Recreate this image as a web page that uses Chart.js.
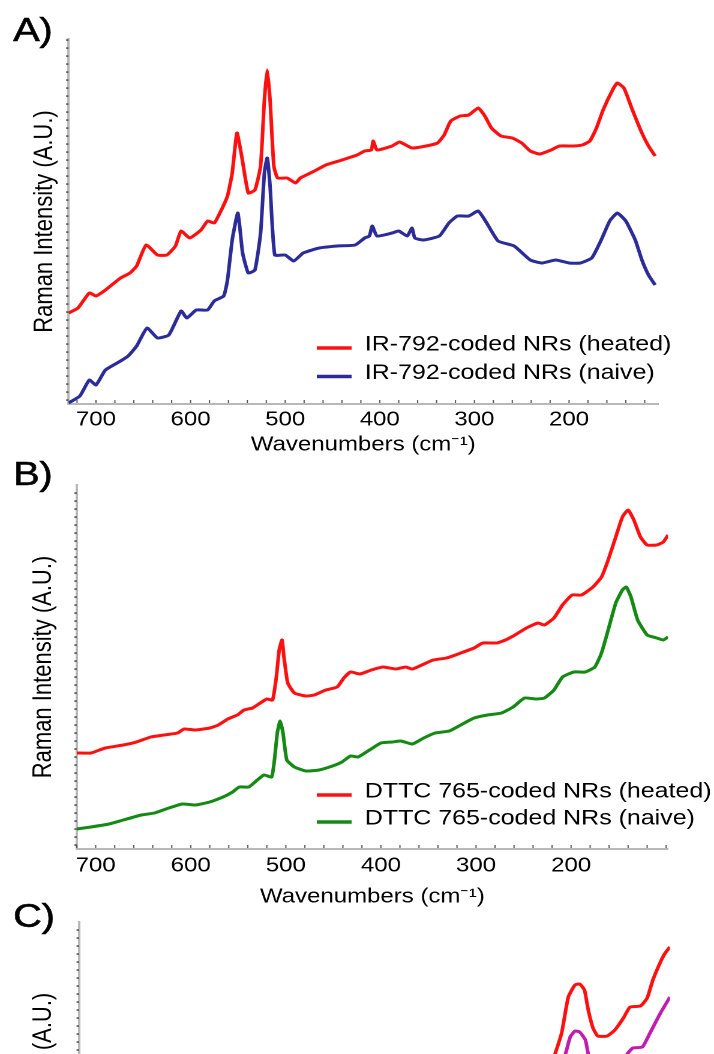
<!DOCTYPE html>
<html lang="en">
<head>
<meta charset="UTF-8">
<title>Raman spectra of coded NRs</title>
<script src="https://cdn.jsdelivr.net/npm/chart.js"></script>
<style>
    html, body {
        margin: 0;
        padding: 0;
        width: 714px;
        height: 1054px;
        overflow: hidden;
        background: #fff;
    }

    /* the original figure is stretched sideways, so the whole sheet is too */
    .sheet {
        position: absolute;
        left: 0;
        top: 0;
        width: 595px;
        height: 1054px;
        transform: scaleX(1.2);
        transform-origin: 0 0;
    }

    .sheet canvas {
        position: absolute;
        left: 0;
    }

    .tag {
        position: absolute;
        left: 11px;
        font-family: "Liberation Sans", Arial, sans-serif;
        font-size: 33px;
        line-height: 1;
        color: #000;
        -webkit-text-stroke: 0.6px #000;
    }
</style>
</head>
<body>
<div class="sheet">
    <canvas id="chartA" width="595" height="465" style="top:0px"></canvas>
    <canvas id="chartB" width="595" height="475" style="top:440px"></canvas>
    <canvas id="chartC" width="595" height="475" style="top:883px"></canvas>
    <div class="tag" style="top:13px">A)</div>
    <div class="tag" style="top:457px">B)</div>
    <div class="tag" style="top:899px">C)</div>
</div>

<script>
    // Panel A - IR-792 coded NRs
    const irHeatedWn  = [729, 719, 707, 700, 690, 674, 664, 657, 647, 635, 625, 616, 610, 601, 589, 582, 575, 568, 561, 556, 551, 546, 539, 532, 526, 522, 519, 516, 512, 508, 498, 489, 484, 469, 457, 440, 424, 416, 409, 407, 403, 387, 379, 366, 351, 339, 332, 325, 315, 306, 296, 289, 282, 272, 260, 250, 241, 231, 219, 210, 195, 186, 178, 171, 164, 154, 149, 142, 133, 123, 116, 109];
    const irHeatedInt = [91, 96, 111, 108, 114, 126, 131, 138, 159, 149, 149, 158, 173, 166, 174, 183, 181, 193, 208, 231, 271, 248, 211, 214, 238, 304, 334, 304, 238, 226, 226, 221, 226, 233, 239, 244, 249, 253, 254, 263, 254, 258, 262, 256, 258, 261, 269, 283, 288, 289, 296, 288, 276, 268, 266, 261, 253, 250, 254, 258, 258, 259, 263, 276, 294, 314, 321, 316, 294, 271, 258, 248];
    const irNaiveWn   = [729, 717, 707, 700, 690, 674, 666, 657, 646, 635, 623, 610, 604, 594, 582, 575, 565, 561, 556, 550, 545, 539, 532, 526, 522, 519, 516, 511, 500, 491, 481, 464, 445, 426, 416, 411, 408, 403, 387, 380, 371, 366, 363, 354, 337, 327, 318, 306, 296, 287, 275, 258, 241, 229, 214, 200, 188, 176, 166, 157, 149, 140, 130, 123, 116, 109];
    const irNaiveInt  = [1, 8, 24, 19, 34, 43, 48, 58, 76, 66, 69, 93, 86, 94, 94, 103, 108, 124, 164, 191, 151, 131, 134, 171, 231, 246, 218, 149, 149, 143, 151, 156, 158, 159, 166, 168, 178, 168, 171, 173, 168, 176, 166, 164, 168, 181, 188, 188, 193, 181, 163, 158, 144, 141, 144, 141, 141, 146, 164, 183, 191, 183, 164, 144, 129, 119];

    // Panel B - DTTC 765 coded NRs
    const dttcHeatedWn  = [720, 705, 690, 671, 657, 642, 628, 614, 607, 595, 580, 571, 561, 551, 544, 535, 527, 520, 514, 510, 507, 504, 502, 498, 491, 479, 470, 458, 446, 439, 432, 422, 410, 398, 384, 374, 367, 357, 345, 331, 316, 302, 293, 278, 269, 259, 247, 235, 228, 218, 209, 199, 189, 177, 168, 161, 153, 146, 140, 134, 127, 120, 110, 103, 98];
    const dttcHeatedInt = [96, 96, 101, 104, 107, 112, 114, 116, 120, 119, 121, 124, 130, 134, 139, 141, 146, 150, 149, 172, 199, 209, 192, 166, 156, 153, 154, 159, 162, 171, 177, 175, 179, 182, 180, 182, 180, 184, 189, 191, 196, 201, 206, 206, 209, 214, 221, 226, 224, 231, 244, 254, 254, 262, 272, 289, 312, 332, 339, 329, 312, 304, 304, 307, 314];
    const dttcNaiveWn   = [720, 705, 686, 671, 652, 638, 623, 609, 595, 580, 566, 556, 549, 539, 530, 523, 515, 512, 509, 506, 503, 499, 491, 479, 465, 451, 441, 432, 424, 412, 400, 388, 379, 367, 355, 343, 328, 316, 302, 288, 273, 261, 249, 237, 228, 218, 209, 197, 185, 175, 168, 161, 153, 146, 142, 137, 130, 120, 110, 103, 98];
    const dttcNaiveInt  = [20, 22, 25, 29, 34, 36, 41, 45, 44, 47, 52, 57, 62, 62, 69, 74, 72, 89, 116, 128, 116, 89, 82, 78, 79, 83, 87, 93, 92, 99, 106, 107, 108, 105, 111, 116, 118, 124, 131, 134, 136, 142, 151, 150, 151, 159, 172, 177, 177, 182, 196, 219, 246, 259, 262, 252, 229, 214, 211, 209, 212];

    // Panel C - only the top right corner is inside the picture
    const cHeatedWn  = [224, 219, 212, 205, 198, 193, 188, 184, 179, 174, 164, 156, 147, 140, 129, 122, 116, 108, 103, 98];
    const cHeatedInt = [222, 232, 253, 289, 301, 302, 296, 276, 258, 250, 250, 256, 268, 279, 280, 288, 306, 324, 333, 339];
    const cNaiveWn   = [214, 208, 203, 198, 193, 187, 184, 178, 172, 163, 156, 148, 143, 137, 127, 119, 108, 98];
    const cNaiveInt  = [218, 232, 249, 255, 254, 246, 232, 218, 212, 208, 210, 220, 232, 238, 239, 253, 273, 289];

    const xTickLabels = [700, 600, 500, 400, 300, 200];

    const RED = '#ff1010';
    const BLUE = '#2c2c98';
    const GREEN = '#148a14';
    const MAGENTA = '#c01cb0';
    const FONT = '"Liberation Sans", Arial, sans-serif';

    Chart.defaults.font.family = FONT;
    Chart.defaults.color = '#000';

    function pts(wn, vals) {
        return wn.map((w, i) => ({ x: w, y: vals[i] }));
    }

    function line(label, wn, vals, color) {
        return {
            label: label,
            data: pts(wn, vals),
            borderColor: color,
            backgroundColor: color,
            borderWidth: 3,
            pointRadius: 0,
            tension: 0.15,
            fill: false
        };
    }

    // small tick marks along both axes and the legend inside the plot
    const panelDecor = {
        id: 'panelDecor',
        beforeDatasetsDraw(chart, args, opts) {
            const ctx = chart.ctx;
            const xs = chart.scales.x;
            const ys = chart.scales.y;
            const area = chart.chartArea;
            ctx.save();
            ctx.fillStyle = '#555';
            for (let v = Math.ceil(xs.min / 20) * 20; v <= xs.max; v += 20) {
                const px = xs.getPixelForValue(v);
                ctx.fillRect(px - 0.5, area.bottom - 4, 1, 3);
            }
            ctx.fillStyle = '#333';
            for (let v = 4; v < ys.max; v += 8) {
                const py = ys.getPixelForValue(v);
                ctx.fillRect(area.left - 2, py - 0.6, 2, 1.3);
            }
            ctx.restore();
        },
        afterDraw(chart, args, opts) {
            if (!opts.show) return;
            const ctx = chart.ctx;
            ctx.save();
            ctx.font = '20.8px ' + FONT;
            ctx.textBaseline = 'middle';
            chart.data.datasets.forEach((ds, i) => {
                const y = opts.y + i * opts.gap;
                ctx.strokeStyle = ds.borderColor;
                ctx.lineWidth = 3.5;
                ctx.beginPath();
                ctx.moveTo(opts.x, y);
                ctx.lineTo(opts.x + 29, y);
                ctx.stroke();
                ctx.fillStyle = '#000';
                ctx.fillText(ds.label, opts.x + 40, y - opts.lift);
            });
            ctx.restore();
        }
    };

    function makeChart(id, datasets, cfg) {
        return new Chart(document.getElementById(id), {
            type: 'line',
            data: { datasets: datasets },
            plugins: [panelDecor],
            options: {
                responsive: false,
                animation: false,
                devicePixelRatio: 2,
                layout: { padding: { top: cfg.padTop, right: cfg.padRight, left: 0, bottom: 0 } },
                plugins: {
                    legend: { display: false },
                    tooltip: { enabled: false },
                    panelDecor: cfg.legend
                },
                scales: {
                    x: {
                        type: 'linear',
                        reverse: true,
                        min: cfg.xMin,
                        max: cfg.xMax,
                        afterBuildTicks: (s) => { s.ticks = xTickLabels.map(v => ({ value: v })); },
                        afterFit: (s) => { s.height = cfg.xAxisHeight; },
                        grid: { display: false, drawTicks: false },
                        border: { display: true, color: '#b8b8b8', width: 2 },
                        ticks: { font: { size: 20 }, padding: cfg.tickPad, maxRotation: 0, autoSkip: false },
                        title: {
                            display: true,
                            text: 'Wavenumbers (cm\u207B\u00B9)',
                            font: { size: 20 },
                            padding: { top: 0, bottom: cfg.xTitlePad }
                        }
                    },
                    y: {
                        min: 0,
                        max: cfg.yMax,
                        afterFit: (s) => { s.width = cfg.yAxisWidth; },
                        grid: { display: false, drawTicks: false },
                        border: { display: true, color: '#b8b8b8', width: 2 },
                        ticks: { display: false },
                        title: {
                            display: true,
                            text: 'Raman Intensity (A.U.)',
                            font: { size: 22 },
                            padding: { top: cfg.yTitlePad, bottom: 0 }
                        }
                    }
                }
            }
        });
    }

    makeChart('chartA', [
        line('IR-792-coded NRs (heated)', irHeatedWn, irHeatedInt, RED),
        line('IR-792-coded NRs (naive)', irNaiveWn, irNaiveInt, BLUE)
    ], {
        xMin: 106, xMax: 729, yMax: 365,
        padTop: 39, padRight: 46.7, yAxisWidth: 57.1, xAxisHeight: 61,
        tickPad: 4, xTitlePad: 8, yTitlePad: 24,
        legend: { show: true, x: 264, y: 348, gap: 28.5, lift: 3 }
    });

    makeChart('chartB', [
        line('DTTC 765-coded NRs (heated)', dttcHeatedWn, dttcHeatedInt, RED),
        line('DTTC 765-coded NRs (naive)', dttcNaiveWn, dttcNaiveInt, GREEN)
    ], {
        xMin: 98, xMax: 720, yMax: 364,
        padTop: 45, padRight: 38.3, yAxisWidth: 63.9, xAxisHeight: 66,
        tickPad: 5, xTitlePad: 6, yTitlePad: 23,
        legend: { show: true, x: 264, y: 355, gap: 27, lift: 3 }
    });

    makeChart('chartC', [
        line('coded NRs (heated)', cHeatedWn, cHeatedInt, RED),
        line('coded NRs (naive)', cNaiveWn, cNaiveInt, MAGENTA)
    ], {
        xMin: 98, xMax: 720, yMax: 364,
        padTop: 39, padRight: 36.7, yAxisWidth: 65.8, xAxisHeight: 72,
        tickPad: 5, xTitlePad: 6, yTitlePad: 23,
        legend: { show: false }
    });
</script>
</body>
</html>
